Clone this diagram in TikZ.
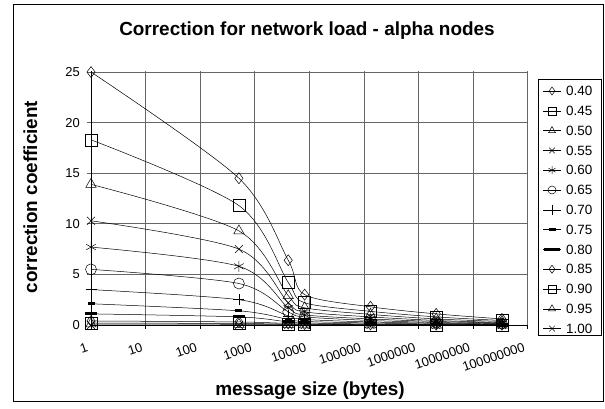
\documentclass[tikz,border=0pt]{standalone}
\usepackage{fontspec}
\setmainfont{Liberation Sans}
\usepackage{tikz}
\usetikzlibrary{plotmarks}

\begin{document}
\begin{tikzpicture}[x=1bp, y=-1bp,
  grid/.style={black!60, line width=0.8bp},
  crv/.style={black, line width=0.5bp, mark options={solid, fill=white, line width=0.5bp}},
  ticklbl/.style={font=\fontsize{13}{15}\selectfont, inner sep=0pt},
  leglbl/.style={font=\fontsize{13.5}{15}\selectfont, inner sep=0pt},
  boldlbl/.style={font=\fontsize{19}{21}\selectfont\bfseries, inner sep=0pt}]
\useasboundingbox (0,0) rectangle (605,408);
\draw[line width=1bp] (13,4) rectangle (603,401);
\node[boldlbl, anchor=base] (title) at (307,35) {Correction for network load - alpha nodes};
% grid and axes
\foreach \v in {5,10,...,25}
  \draw[grid] (87,{325-10.12*\v}) -- (528,{325-10.12*\v});
\foreach \i in {1,...,8}
  \draw[grid] ({91+54.6*\i},71) -- ({91+54.6*\i},329);
\draw[line width=0.8bp] (91,71) -- (91,325) -- (528,325);
\foreach \i in {0,...,8}
  \draw[line width=0.8bp] ({91+54.6*\i},325) -- ({91+54.6*\i},329);
\foreach \v in {0,5,...,25}
  \node[ticklbl, anchor=east] (ylbl\v) at (80,{325-10.12*\v}) {\v};
\foreach \lbl [count=\i from 0] in {1,10,100,1000,10000,100000,1000000,10000000,100000000}
  \node[ticklbl, anchor=north east, rotate=19] (xlbl\i) at ({86+54.6*\i},342) {\lbl};
\node[boldlbl, rotate=90, anchor=base] (ytitle) at (37,197) {correction coefficient};
\node[boldlbl, anchor=base] (xtitle) at (310,395) {message size (bytes)};
% curves
\begin{scope}[shift={(91,325)}, x=54.6bp, y=10.12bp]
\draw[crv] plot[smooth, mark=diamond, mark size=5.5bp] coordinates {(0,25) (2.709,14.5) (3.612,6.4) (3.913,3.0) (5.118,1.8) (6.322,1.1) (7.526,0.6)};
\draw[crv] plot[smooth, mark=square, mark size=6bp] coordinates {(0,18.3) (2.709,11.8) (3.612,4.2) (3.913,2.2) (5.118,1.35) (6.322,0.8) (7.526,0.45)};
\draw[crv] plot[smooth, mark=triangle, mark size=6bp] coordinates {(0,13.9) (2.709,9.3) (3.612,2.9) (3.913,1.7) (5.118,1.05) (6.322,0.6) (7.526,0.35)};
\draw[crv] plot[smooth, mark=x, mark size=5.5bp] coordinates {(0,10.3) (2.709,7.5) (3.612,2.2) (3.913,1.3) (5.118,0.8) (6.322,0.45) (7.526,0.25)};
\draw[crv] plot[smooth, mark=asterisk, mark size=5.5bp] coordinates {(0,7.7) (2.709,5.8) (3.612,1.7) (3.913,1.0) (5.118,0.6) (6.322,0.35) (7.526,0.2)};
\draw[crv] plot[smooth, mark=o, mark size=5.5bp] coordinates {(0,5.5) (2.709,4.1) (3.612,1.3) (3.913,0.8) (5.118,0.45) (6.322,0.25) (7.526,0.15)};
\draw[crv] plot[smooth, mark=+, mark size=5.5bp] coordinates {(0,3.5) (2.709,2.5) (3.612,0.9) (3.913,0.55) (5.118,0.3) (6.322,0.18) (7.526,0.1)};
\draw[crv] plot[smooth, mark=-, mark size=3.5bp, mark options={line width=3bp}] coordinates {(0,2.1) (2.709,1.4) (3.612,0.55) (3.913,0.35) (5.118,0.2) (6.322,0.1) (7.526,0.05)};
\draw[crv] plot[smooth, mark=-, mark size=6bp, mark options={line width=3bp}] coordinates {(0,1.1) (2.709,0.8) (3.612,0.3) (3.913,0.2) (5.118,0.1) (6.322,0.05) (7.526,0.03)};
\draw[crv] plot[smooth, mark=diamond, mark size=5.5bp] coordinates {(0,0.4) (2.709,0.3) (3.612,0.15) (3.913,0.1) (5.118,0.05) (6.322,0.03) (7.526,0.01)};
\draw[crv] plot[smooth, mark=square, mark size=6bp] coordinates {(0,0.2) (2.709,0.15) (3.612,0.08) (3.913,0.05) (5.118,0.02) (6.322,0.01) (7.526,0)};
\draw[crv] plot[smooth, mark=triangle, mark size=6bp] coordinates {(0,0.1) (2.709,0.07) (3.612,0.03) (3.913,0.02) (5.118,0.01) (6.322,0) (7.526,0)};
\draw[crv] plot[smooth, mark=x, mark size=5.5bp] coordinates {(0,0) (2.709,0) (3.612,0) (3.913,0) (5.118,0) (6.322,0) (7.526,0)};
\end{scope}
% legend
\draw[line width=0.8bp] (538,79) rectangle (601,335);
\foreach \lbl/\mk/\ms/\lw [count=\i from 0] in {0.40/diamond/4/0.5, 0.45/square/4/0.5, 0.50/triangle/4/0.5, 0.55/x/4/0.5, 0.60/asterisk/4/0.5, 0.65/o/4/0.5, 0.70/+/5/0.5, 0.75/-/3.5/2.5, 0.80/-/8/3, 0.85/diamond/4/0.5, 0.90/square/4/0.5, 0.95/triangle/4/0.5, 1.00/x/4/0.5} {
  \draw[crv] (543,{91+19.8*\i}) -- (561,{91+19.8*\i});
  \draw[crv] plot[mark=\mk, mark size=\ms bp, mark options={line width=\lw bp}] coordinates {(552,{91+19.8*\i})};
  \node[leglbl, anchor=west] (leg\i) at (566,{91+19.8*\i}) {\lbl};
}
\end{tikzpicture}
\end{document}
